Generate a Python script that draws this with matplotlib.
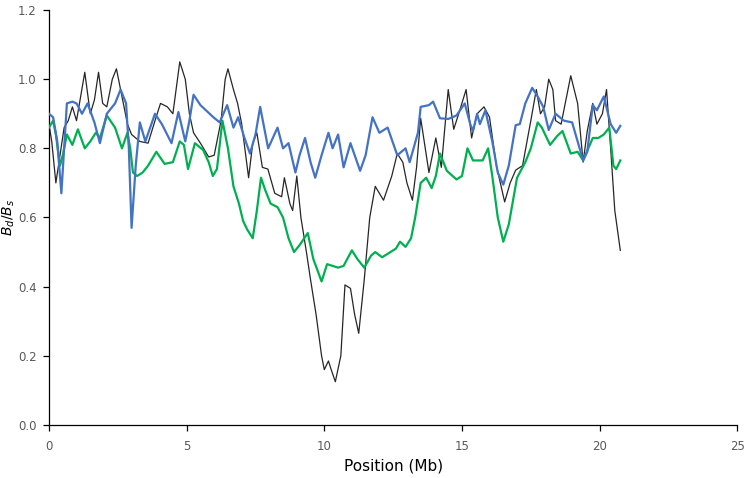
import matplotlib
matplotlib.use("Agg")
import matplotlib.pyplot as plt

# ---- data (Position in Mb, Bd/Bs) ----
green_x = [0.0, 0.15, 0.25, 0.4, 0.5, 0.65, 0.85, 1.05, 1.3, 1.5, 1.7, 1.85, 2.1, 2.4, 2.65, 2.85,
           2.95, 3.05, 3.2, 3.4, 3.6, 3.9, 4.2, 4.5, 4.75, 4.9, 5.05, 5.3, 5.6, 5.8, 5.95, 6.1,
           6.3, 6.5, 6.7, 6.9, 7.05, 7.2, 7.4, 7.55, 7.7, 7.85, 8.05, 8.3, 8.5, 8.7, 8.9, 9.1,
           9.4, 9.6, 9.9, 10.1, 10.3, 10.5, 10.7, 11.0, 11.2, 11.45, 11.7, 11.85, 12.1, 12.4,
           12.6, 12.75, 12.95, 13.15, 13.3, 13.5, 13.7, 13.9, 14.05, 14.2, 14.45, 14.8, 15.0,
           15.2, 15.4, 15.75, 15.95, 16.1, 16.3, 16.5, 16.7, 17.0, 17.3, 17.5, 17.75, 17.9,
           18.2, 18.45, 18.65, 18.95, 19.2, 19.4, 19.75, 19.95, 20.15, 20.35, 20.5, 20.6, 20.75]
green_y = [0.86, 0.88, 0.84, 0.75, 0.78, 0.84, 0.81, 0.855, 0.80, 0.82, 0.845, 0.83, 0.895, 0.86,
           0.80, 0.845, 0.80, 0.73, 0.72, 0.73, 0.75, 0.79, 0.755, 0.76, 0.82, 0.81, 0.74, 0.815,
           0.795, 0.76, 0.72, 0.74, 0.88, 0.80, 0.69, 0.64, 0.59, 0.565, 0.54, 0.62, 0.715, 0.68,
           0.64, 0.63, 0.60, 0.54, 0.50, 0.52, 0.555, 0.48, 0.415, 0.465, 0.46, 0.455, 0.46,
           0.505, 0.48, 0.455, 0.49, 0.50, 0.485, 0.50, 0.51, 0.53, 0.515, 0.54, 0.60, 0.70,
           0.715, 0.685, 0.72, 0.785, 0.735, 0.71, 0.72, 0.80, 0.765, 0.765, 0.80, 0.72, 0.60,
           0.53, 0.58, 0.715, 0.76, 0.80, 0.875, 0.86, 0.81, 0.835, 0.85, 0.785, 0.79, 0.765,
           0.83, 0.83, 0.84, 0.86, 0.75, 0.74, 0.765]

blue_x = [0.0, 0.15, 0.3, 0.45, 0.55, 0.65, 0.85, 1.0, 1.2, 1.4, 1.65, 1.85, 2.1, 2.4, 2.6, 2.8,
          2.9, 3.0, 3.15, 3.3, 3.5, 3.85, 4.1, 4.45, 4.7, 4.95, 5.1, 5.25, 5.5, 5.97, 6.2, 6.47,
          6.7, 6.87, 7.1, 7.3, 7.5, 7.67, 7.96, 8.3, 8.5, 8.7, 8.95, 9.1, 9.3, 9.5, 9.67, 9.9,
          10.15, 10.3, 10.5, 10.7, 10.95, 11.3, 11.5, 11.75, 12.0, 12.3, 12.65, 12.95, 13.1,
          13.4, 13.5, 13.8, 13.95, 14.2, 14.5, 14.8, 15.1, 15.3, 15.4, 15.55, 15.65, 15.85,
          16.1, 16.3, 16.5, 16.7, 16.95, 17.1, 17.3, 17.55, 17.75, 17.95, 18.15, 18.4, 18.7,
          19.0, 19.2, 19.4, 19.55, 19.75, 19.9, 20.15, 20.4, 20.6, 20.75]
blue_y = [0.90, 0.89, 0.82, 0.67, 0.80, 0.93, 0.935, 0.93, 0.90, 0.93, 0.875, 0.815, 0.90, 0.93,
          0.97, 0.93, 0.80, 0.57, 0.75, 0.875, 0.82, 0.90, 0.87, 0.815, 0.905, 0.82, 0.88, 0.955,
          0.925, 0.89, 0.875, 0.925, 0.86, 0.89, 0.83, 0.785, 0.84, 0.92, 0.80, 0.86, 0.80,
          0.815, 0.73, 0.78, 0.83, 0.76, 0.715, 0.78, 0.845, 0.80, 0.84, 0.745, 0.815, 0.735,
          0.78, 0.89, 0.845, 0.86, 0.78, 0.80, 0.76, 0.845, 0.92, 0.925, 0.935, 0.887, 0.885,
          0.895, 0.93, 0.87, 0.85, 0.90, 0.87, 0.91, 0.82, 0.73, 0.695, 0.75, 0.867, 0.87, 0.93,
          0.975, 0.95, 0.92, 0.853, 0.90, 0.88, 0.875, 0.82, 0.765, 0.79, 0.925, 0.91, 0.95,
          0.87, 0.845, 0.865]

black_x = [0.0, 0.1, 0.25, 0.4, 0.55, 0.7, 0.85, 1.0, 1.15, 1.3, 1.5, 1.65, 1.8, 1.95, 2.1, 2.3,
           2.45, 2.65, 2.85, 3.0, 3.3, 3.6, 3.85, 4.05, 4.3, 4.5, 4.75, 4.95, 5.1, 5.25, 5.5,
           5.8, 6.0, 6.25, 6.4, 6.5, 6.7, 6.85, 7.0, 7.25, 7.4, 7.55, 7.75, 7.95, 8.2, 8.45,
           8.55, 8.75, 8.85, 9.0, 9.15, 9.35, 9.5, 9.7, 9.9, 10.0, 10.15, 10.25, 10.4, 10.6,
           10.75, 10.95, 11.1, 11.25, 11.45, 11.65, 11.85, 12.15, 12.45, 12.65, 12.85, 13.0,
           13.2, 13.35, 13.5, 13.8, 14.05, 14.25, 14.5, 14.7, 14.9, 15.15, 15.35, 15.55, 15.8,
           16.0, 16.25, 16.55, 16.75, 16.95, 17.2, 17.5, 17.7, 17.85, 18.0, 18.15, 18.3, 18.4,
           18.6, 18.95, 19.2, 19.4, 19.55, 19.75, 19.9, 20.1, 20.25, 20.4, 20.55, 20.75]
black_y = [0.87, 0.82, 0.70, 0.78, 0.86, 0.88, 0.92, 0.88, 0.95, 1.02, 0.90, 0.94, 1.02, 0.93,
           0.92, 1.0, 1.03, 0.95, 0.87, 0.84, 0.82, 0.815, 0.88, 0.93, 0.92, 0.90, 1.05, 1.0,
           0.90, 0.845, 0.815, 0.775, 0.78, 0.88, 1.0, 1.03, 0.97, 0.93, 0.87, 0.715, 0.815,
           0.845, 0.745, 0.74, 0.67, 0.66, 0.715, 0.64, 0.62, 0.72, 0.60, 0.50, 0.42, 0.32,
           0.20, 0.16, 0.185, 0.16, 0.125, 0.20, 0.405, 0.395, 0.32, 0.265, 0.42, 0.60, 0.69,
           0.65, 0.72, 0.785, 0.76, 0.70, 0.65, 0.745, 0.887, 0.73, 0.83, 0.745, 0.97, 0.855,
           0.905, 0.97, 0.83, 0.90, 0.92, 0.89, 0.75, 0.645, 0.70, 0.737, 0.75, 0.88, 0.97,
           0.90, 0.92, 1.0, 0.97, 0.88, 0.87, 1.01, 0.93, 0.76, 0.85, 0.93, 0.87, 0.90, 0.97,
           0.80, 0.62, 0.505]

x_ticks = [0, 5, 10, 15, 20, 25]
y_ticks = [0.0, 0.2, 0.4, 0.6, 0.8, 1.0, 1.2]

# ---- figure ----
fig = plt.figure(figsize=(7.49, 4.78), dpi=100)
ax = fig.add_axes([0.0654, 0.111, 0.919, 0.868])

ax.plot(black_x, black_y, color="#262626", lw=0.9, solid_joinstyle="round", zorder=2)
ax.plot(green_x, green_y, color="#00B050", lw=1.6, solid_joinstyle="round", zorder=3)
ax.plot(blue_x, blue_y, color="#4472C4", lw=1.6, solid_joinstyle="round", zorder=4)

ax.set_xlim(0, 25)
ax.set_ylim(0, 1.2)
ax.set_xticks(x_ticks)
ax.set_xticklabels([str(t) for t in x_ticks])
ax.set_yticks(y_ticks)
ax.set_yticklabels([f"{t:.1f}" for t in y_ticks])

for s in ["top", "right"]:
    ax.spines[s].set_visible(False)
for s in ["left", "bottom"]:
    ax.spines[s].set_color("black")
    ax.spines[s].set_linewidth(0.9)

ax.tick_params(axis="both", direction="out", length=4, width=0.9, color="black",
               labelsize=8.5, labelcolor="#595959", pad=5)
ax.tick_params(axis="x", pad=7)

ax.set_xlabel("Position (Mb)", fontsize=11, color="black", labelpad=4)
ax.set_ylabel(r"$B_d/B_s$", fontsize=10, color="black", va="center")
ax.yaxis.set_label_coords(-0.058, 0.5)

fig.savefig("out.png", dpi=100)
